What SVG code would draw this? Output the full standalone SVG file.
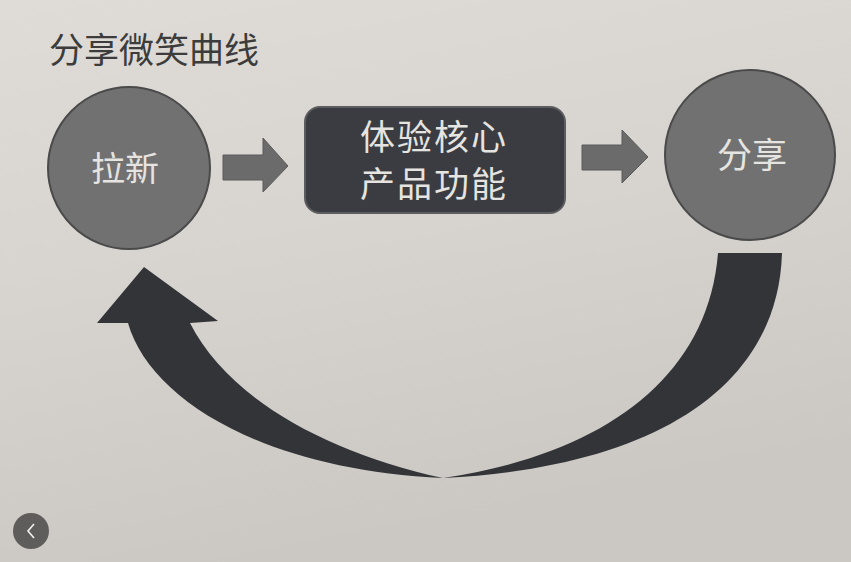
<svg xmlns="http://www.w3.org/2000/svg" width="851" height="562" viewBox="0 0 851 562">
<defs>
<linearGradient id="bg" x1="0" y1="0" x2="0.3" y2="1">
<stop offset="0" stop-color="#dfdcd8"/>
<stop offset="0.5" stop-color="#d7d4d0"/>
<stop offset="1" stop-color="#cbc7c3"/>
</linearGradient>
<style>
.cjk{font-family:"Noto Sans CJK SC","Noto Sans CJK TC",sans-serif;}
.circle{fill:#717171;stroke:#4a4a4a;stroke-width:2;}
.lbl{fill:#e6e4e0;text-anchor:middle;}
.small-arrow{fill:#6b6b6b;stroke:#5a5a5a;stroke-width:1;}
</style>
</defs>
<rect width="851" height="562" fill="url(#bg)"/>
<text class="cjk" x="49" y="63" font-size="35" fill="#3c3c3c">分享微笑曲线</text>

<g id="node-laxin">
<circle class="circle" cx="129" cy="168" r="81"/>
<text class="cjk lbl" x="125" y="181" font-size="34">拉新</text>
</g>

<g id="node-core">
<rect x="305" y="107" width="260" height="106" rx="15" fill="#3a3c41" stroke="#5c5d60" stroke-width="2"/>
<text class="cjk lbl" x="433" y="150" font-size="35" textLength="146" lengthAdjust="spacing">体验核心</text>
<text class="cjk lbl" x="433" y="197" font-size="35" textLength="146" lengthAdjust="spacing">产品功能</text>
</g>

<g id="node-share">
<circle class="circle" cx="750" cy="155" r="85"/>
<text class="cjk lbl" x="752" y="168" font-size="35">分享</text>
</g>

<g id="connectors">
<path class="small-arrow" d="M223 155 L263 155 L263 138 L288 166 L263 192 L263 180 L223 180 Z"/>
<path class="small-arrow" d="M582 145 L622 145 L622 130 L648 157 L622 183 L622 170 L582 170 Z"/>
<path fill="#333438" d="M782 253 C778 390 650 468 443 478 C265 470 150 400 128 323 L97 323 L144 267 L218 321 L190 323 C228 398 325 452 443 478 C600 455 708 380 718 253 Z"/>
</g>

<g id="back-button">
<circle cx="31" cy="531" r="18" fill="#5f5d5b"/>
<path d="M34 524 L28 531 L34 538" fill="none" stroke="#f2f2f2" stroke-width="1.6"/>
</g>
</svg>
